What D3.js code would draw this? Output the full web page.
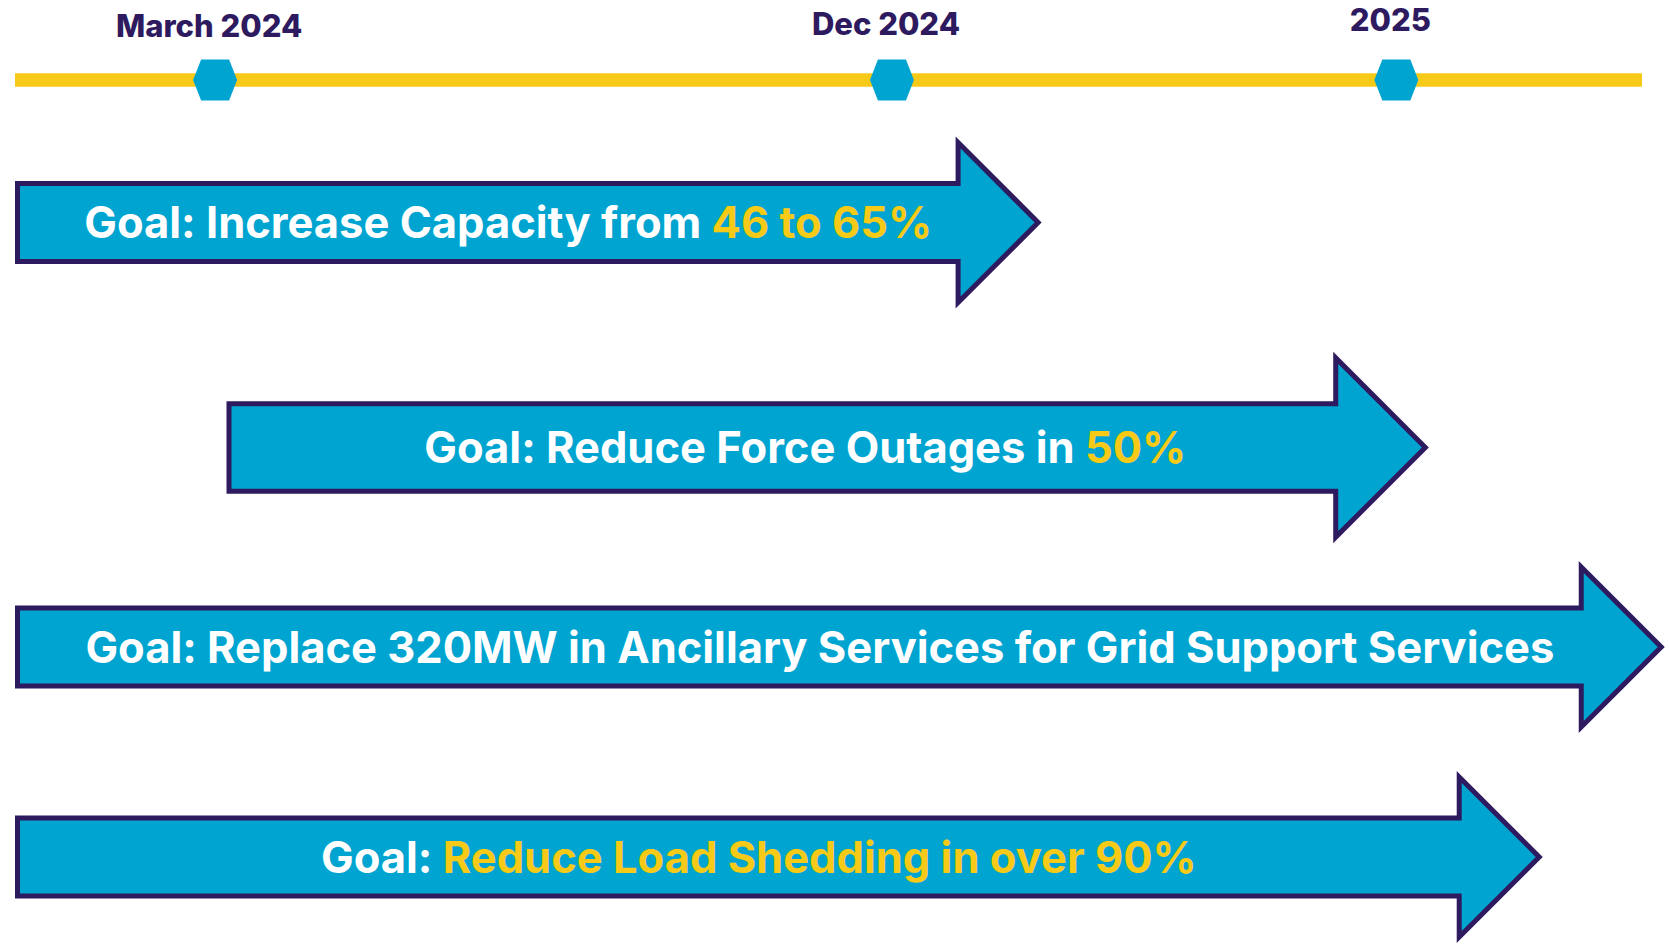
<!DOCTYPE html>
<html>
<head>
<meta charset="utf-8">
<script src="https://cdn.jsdelivr.net/npm/d3@7"></script>
<style>
  body { margin: 0; background: #fff; }
  svg { display: block; }
</style>
</head>
<body>
<svg id="chart"></svg>
<script>
const CONF = {
    width: 1669,
    height: 944,
    lineY: 80,
    lineW: 13.5,
    stroke: 5,
    bodyHalf: 39,
    headSize: 80,
    arrowScale: [1, 1.12, 1, 1],
    rowCenters: [222.5, 447.5, 647, 857],
    labelDy: [37, 35, 31],
    goalFont: 43.5,
    labelFont: 31,
}

const COLORS = {
    blue: "#00a4d1",
    purple: "#2e1a5f",
    yellow: "#f7ca18",
    white: "#ffffff",
}

// timeline milestones (position along timeline, 0-100)
const milestones = ["March 2024", "Dec 2024", "2025"];
const milestonePos = [12.3, 53.9, 84.9];

// goals: plain part, highlighted part, start/end on the timeline
const goalText = [
    "Goal: Increase Capacity from ",
    "Goal: Reduce Force Outages in ",
    "Goal: Replace 320MW in Ancillary Services for Grid Support Services",
    "Goal: ",
];
const goalHighlight = ["46 to 65%", "50%", "", "Reduce Load Shedding in over 90%"];
const goalStart = [0, 13.0, 0, 0];
const goalEnd = [63.1, 86.9, 101.4, 93.9];

let svg = d3.select("svg#chart").attr("width", CONF.width).attr("height", CONF.height)

let x = d3.scaleLinear().domain([0, 100]).range([15, 1642])
let y = d3.scaleLinear().domain([0, 1, 2, 3]).range(CONF.rowCenters)

// timeline
svg.append("line")
    .attr("x1", x(0)).attr("x2", x(100))
    .attr("y1", CONF.lineY).attr("y2", CONF.lineY)
    .attr("stroke", COLORS.yellow)
    .attr("stroke-width", CONF.lineW)

function hexPoints(cx, cy) {
    let w = 22, f = 14, h = 20.5;
    return [[cx - w, cy], [cx - f, cy - h], [cx + f, cy - h], [cx + w, cy], [cx + f, cy + h], [cx - f, cy + h]]
        .map(p => p.join(",")).join(" ")
}

svg.selectAll()
    .data(milestonePos)
    .enter()
    .append("polygon")
    .attr("points", d => hexPoints(x(d), CONF.lineY))
    .attr("fill", COLORS.blue)

svg.selectAll()
    .data(milestones)
    .enter()
    .append("text")
    .attr("x", (d, i) => x(milestonePos[i]) - 6)
    .attr("y", (d, i) => CONF.labelDy[i])
    .attr("text-anchor", "middle")
    .style("font-family", "Inter, 'Open Sans', sans-serif")
    .style("font-weight", 800)
    .style("font-size", CONF.labelFont + "px")
    .attr("fill", COLORS.purple)
    .text(d => d)

// arrows
function arrowPath(x0, x1, cy, s) {
    let half = CONF.stroke / 2;
    let bh = CONF.bodyHalf * s, hs = CONF.headSize * s;
    let l = x0 + half, t = x1 - half * Math.SQRT2;
    let b = t - hs;
    return `M${l},${cy - bh}L${b},${cy - bh}L${b},${cy - hs}L${t},${cy}L${b},${cy + hs}L${b},${cy + bh}L${l},${cy + bh}Z`
}

let rows = d3.range(goalText.length)

svg.selectAll()
    .data(rows)
    .enter()
    .append("path")
    .attr("d", i => arrowPath(x(goalStart[i]), x(goalEnd[i]), y(i), CONF.arrowScale[i]))
    .attr("fill", COLORS.blue)
    .attr("stroke", COLORS.purple)
    .attr("stroke-width", CONF.stroke)
    .attr("stroke-linejoin", "miter")

let labels = svg.selectAll()
    .data(rows)
    .enter()
    .append("text")
    .attr("x", i => {
        let hs = CONF.headSize * CONF.arrowScale[i];
        let l = x(goalStart[i]), base = x(goalEnd[i]) - hs;
        return (l + base) / 2 + hs / 4
    })
    .attr("y", i => y(i) + CONF.goalFont * 0.36)
    .attr("text-anchor", "middle")
    .style("font-family", "Inter, 'Open Sans', sans-serif")
    .style("font-weight", 700)
    .style("font-size", CONF.goalFont + "px")

labels.append("tspan")
    .attr("fill", COLORS.white)
    .text(i => goalText[i])

labels.append("tspan")
    .attr("fill", COLORS.yellow)
    .text(i => goalHighlight[i])
</script>
</body>
</html>
